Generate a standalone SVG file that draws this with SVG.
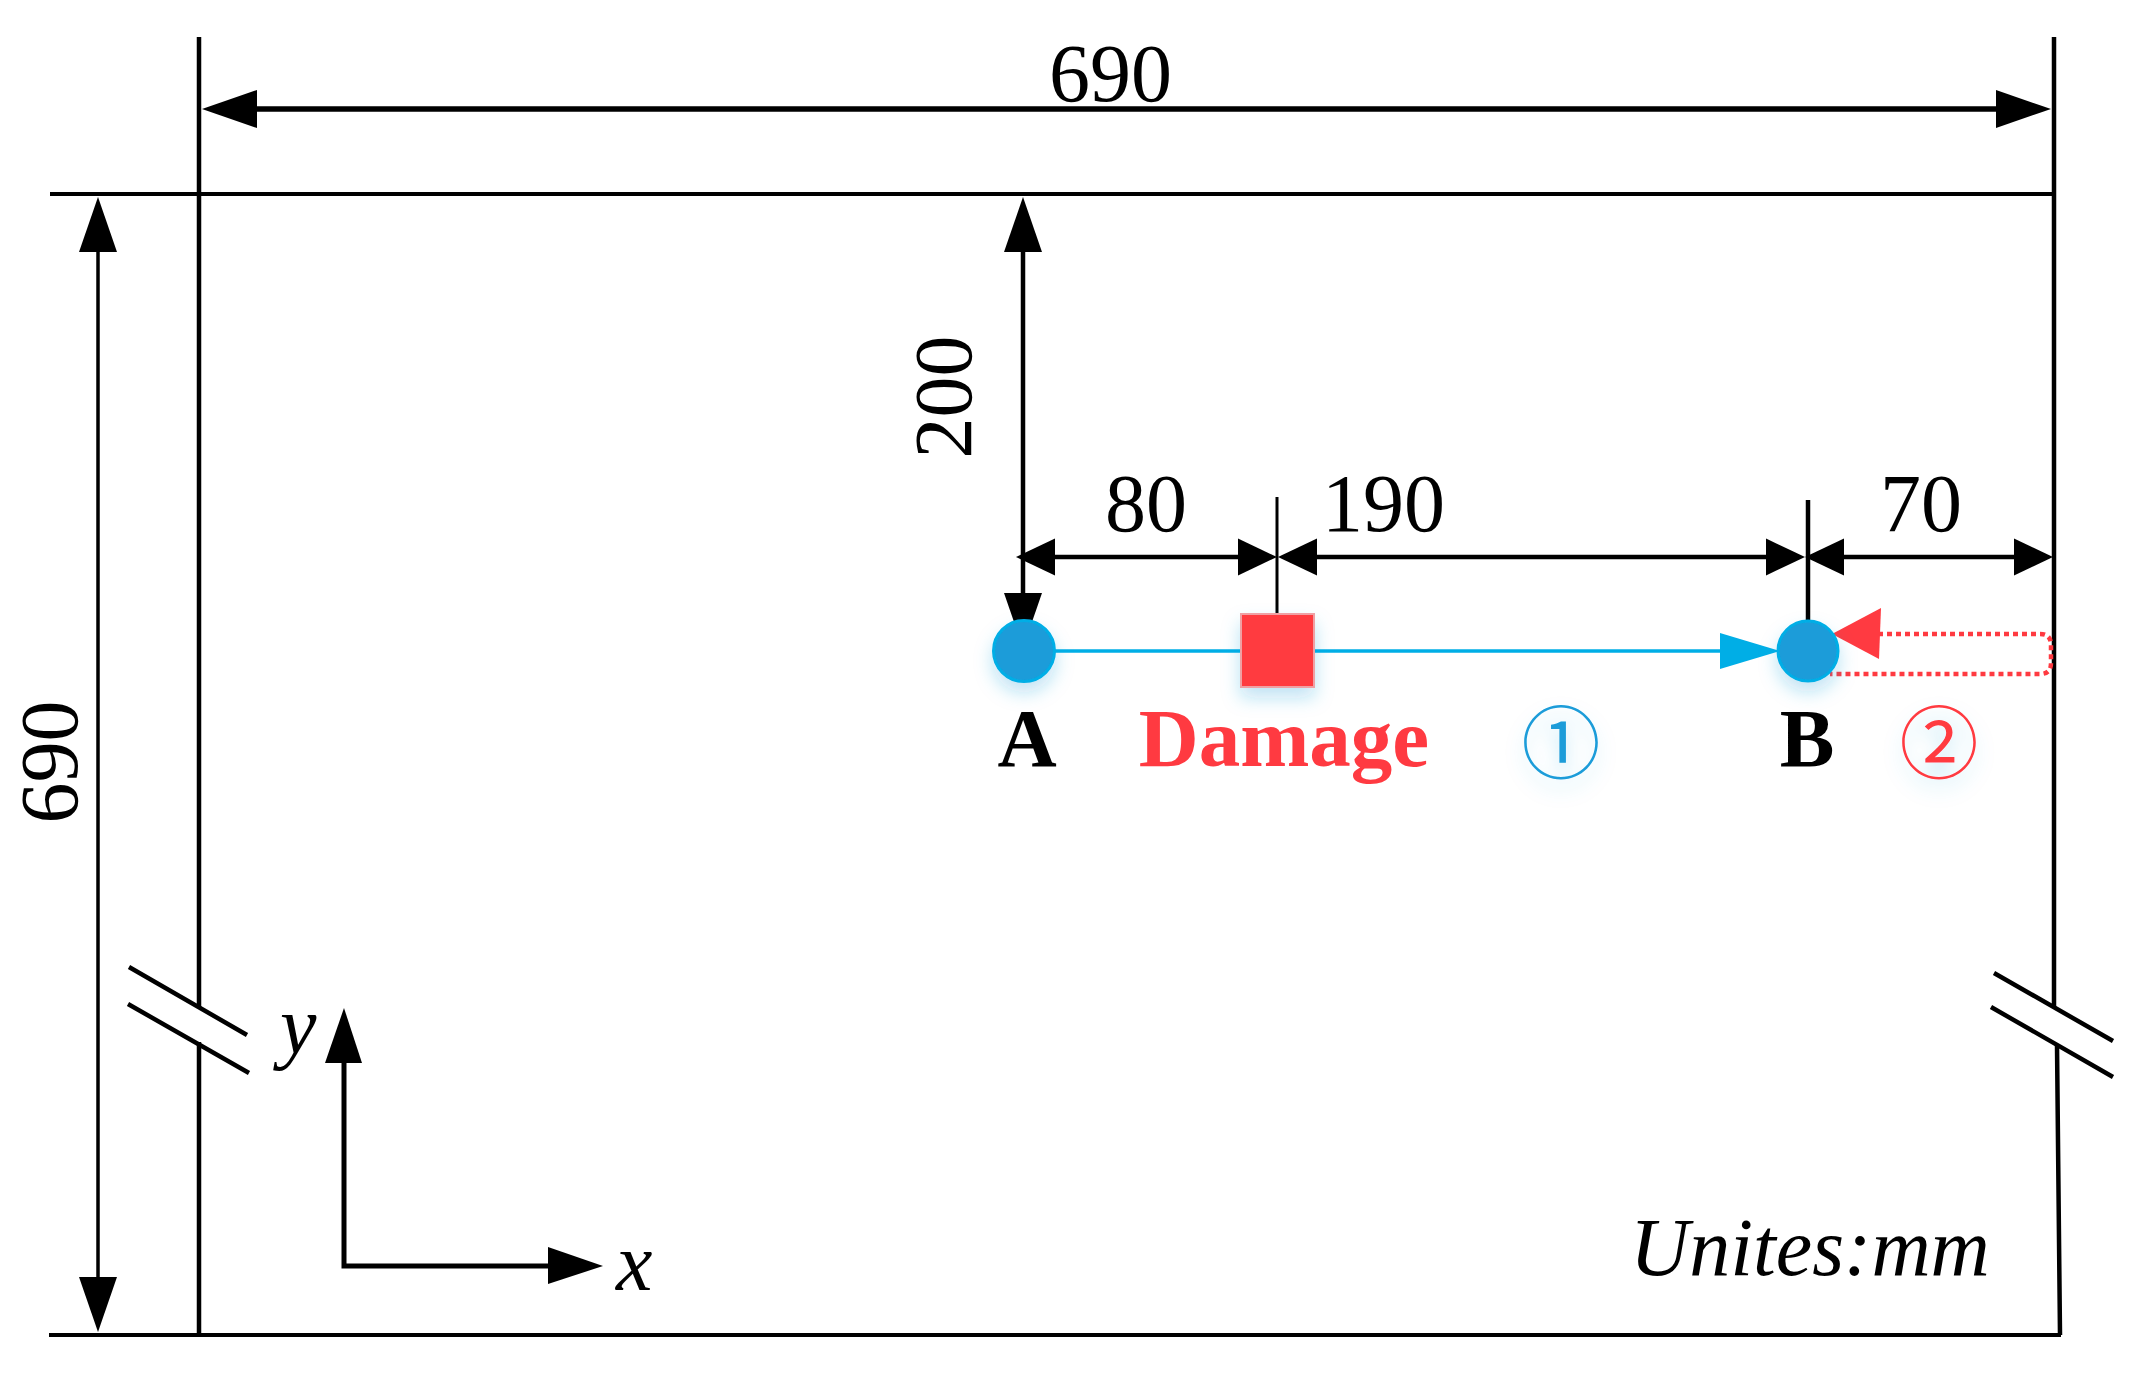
<svg xmlns="http://www.w3.org/2000/svg" width="2135" height="1400" viewBox="0 0 2135 1400">
<style>
.l{fill:none;stroke:#000;stroke-width:4.5}
.t{fill:none;stroke:#000;stroke-width:3}
text{font-family:"Liberation Serif","Times New Roman",serif;fill:#000;font-size:82px}
.b{font-weight:bold}
.i{font-style:italic}
.c{font-family:"Noto Sans CJK SC","DejaVu Sans",sans-serif;font-size:79px;text-anchor:middle}
.dot{fill:#1a9cd9;stroke:#00aee6;stroke-width:3;filter:url(#sh)}
</style>
<defs>
<filter id="sh" x="-40%" y="-40%" width="180%" height="190%"><feDropShadow dx="0" dy="10" stdDeviation="9" flood-color="#1a9cd9" flood-opacity="0.28"/></filter>
<marker id="big" markerUnits="userSpaceOnUse" markerWidth="60" markerHeight="40" viewBox="0 -20 60 40" refX="1" refY="0" orient="auto-start-reverse"><path d="M0,-19 L55,0 L0,19Z" fill="#000"/></marker>
<marker id="sm" markerUnits="userSpaceOnUse" markerWidth="44" markerHeight="40" viewBox="0 -20 44 40" refX="1" refY="0" orient="auto-start-reverse"><path d="M0,-18.5 L39,0 L0,18.5Z" fill="#000"/></marker>
<marker id="blue" markerUnits="userSpaceOnUse" markerWidth="64" markerHeight="40" viewBox="0 -20 64 40" refX="1" refY="0" orient="auto"><path d="M0,-18 L60,0 L0,18Z" fill="#00aee6"/></marker>
</defs>
<rect width="2135" height="1400" fill="#fff"/>
<g id="connectors">
<path class="l" d="M199,37V1007M199,1042V1335"/>
<path class="l" d="M2054,37V1007M2057,1045L2060,1335"/>
<path class="l" style="stroke-width:4" d="M50,194H2054M49,1335H2061"/>
<path class="l" d="M129,967L247,1035M128,1004L249,1073M1994,973L2113,1041M1991,1007L2113,1077"/>
<path class="l" style="stroke-width:5.5" d="M256,109H1997" marker-start="url(#big)" marker-end="url(#big)"/>
<path class="t" style="stroke-width:3.5" d="M98,251V1278" marker-start="url(#big)" marker-end="url(#big)"/>
<path class="l" d="M1023,251V593" marker-start="url(#big)"/>
<path class="l" d="M1023,593V594" marker-end="url(#big)"/>
<path class="l" d="M1054,557H1239" marker-start="url(#sm)" marker-end="url(#sm)"/>
<path class="l" d="M1316,557H1767" marker-start="url(#sm)" marker-end="url(#sm)"/>
<path class="l" d="M1843,557H2015" marker-start="url(#sm)" marker-end="url(#sm)"/>
<path class="t" d="M1277,497V613"/>
<path class="l" d="M1808,500V620"/>
<path fill="none" stroke="#00aee6" stroke-width="3.5" d="M1054,651H1721" marker-end="url(#blue)"/>
<path fill="none" stroke="#ff3a41" stroke-width="4.5" stroke-dasharray="5 4" d="M1878,634H2040Q2051,634 2051,645V663Q2051,674 2040,674H1830"/>
<path fill="#ff3a41" d="M1832,634L1881,608L1879,659Z"/>
<path class="l" style="stroke-width:5" d="M344,1063V1266H548"/>
<path d="M344,1008L362,1063H325Z"/>
<path d="M603,1266L548,1247V1284Z"/>
</g>
<g id="node-a"><circle class="dot" cx="1024" cy="651" r="30.5"/><text class="b" x="1027" y="766" text-anchor="middle">A</text></g>
<g id="node-damage"><rect x="1241" y="614" width="73" height="73" fill="#ff3a41" stroke="#f0a0a4" stroke-width="2" filter="url(#sh)"/><text class="b" x="1284" y="766" text-anchor="middle" style="fill:#ff3a41;font-size:83px">Damage</text></g>
<g id="node-b"><circle class="dot" cx="1808" cy="651" r="30"/><text class="b" x="1807" y="766" text-anchor="middle">B</text></g>
<g id="labels">
<text x="1049" y="101">690</text>
<text x="1105" y="531">80</text>
<text x="1322" y="531">190</text>
<text x="1880" y="531">70</text>
<text transform="translate(77,762) rotate(-90)" text-anchor="middle">690</text>
<text transform="translate(971,397) rotate(-90)" text-anchor="middle">200</text>
<text class="i" x="280" y="1053" font-size="84">y</text>
<text class="i" x="616" y="1290" font-size="84">x</text>
<text class="i" x="1630" y="1275">Unites:mm</text>
<text class="c" x="1561" y="773" style="fill:#1a9cd9" filter="url(#sh)">①</text>
<text class="c" x="1939" y="773" style="fill:#ff3a41" filter="url(#sh)">②</text>
</g>
</svg>
